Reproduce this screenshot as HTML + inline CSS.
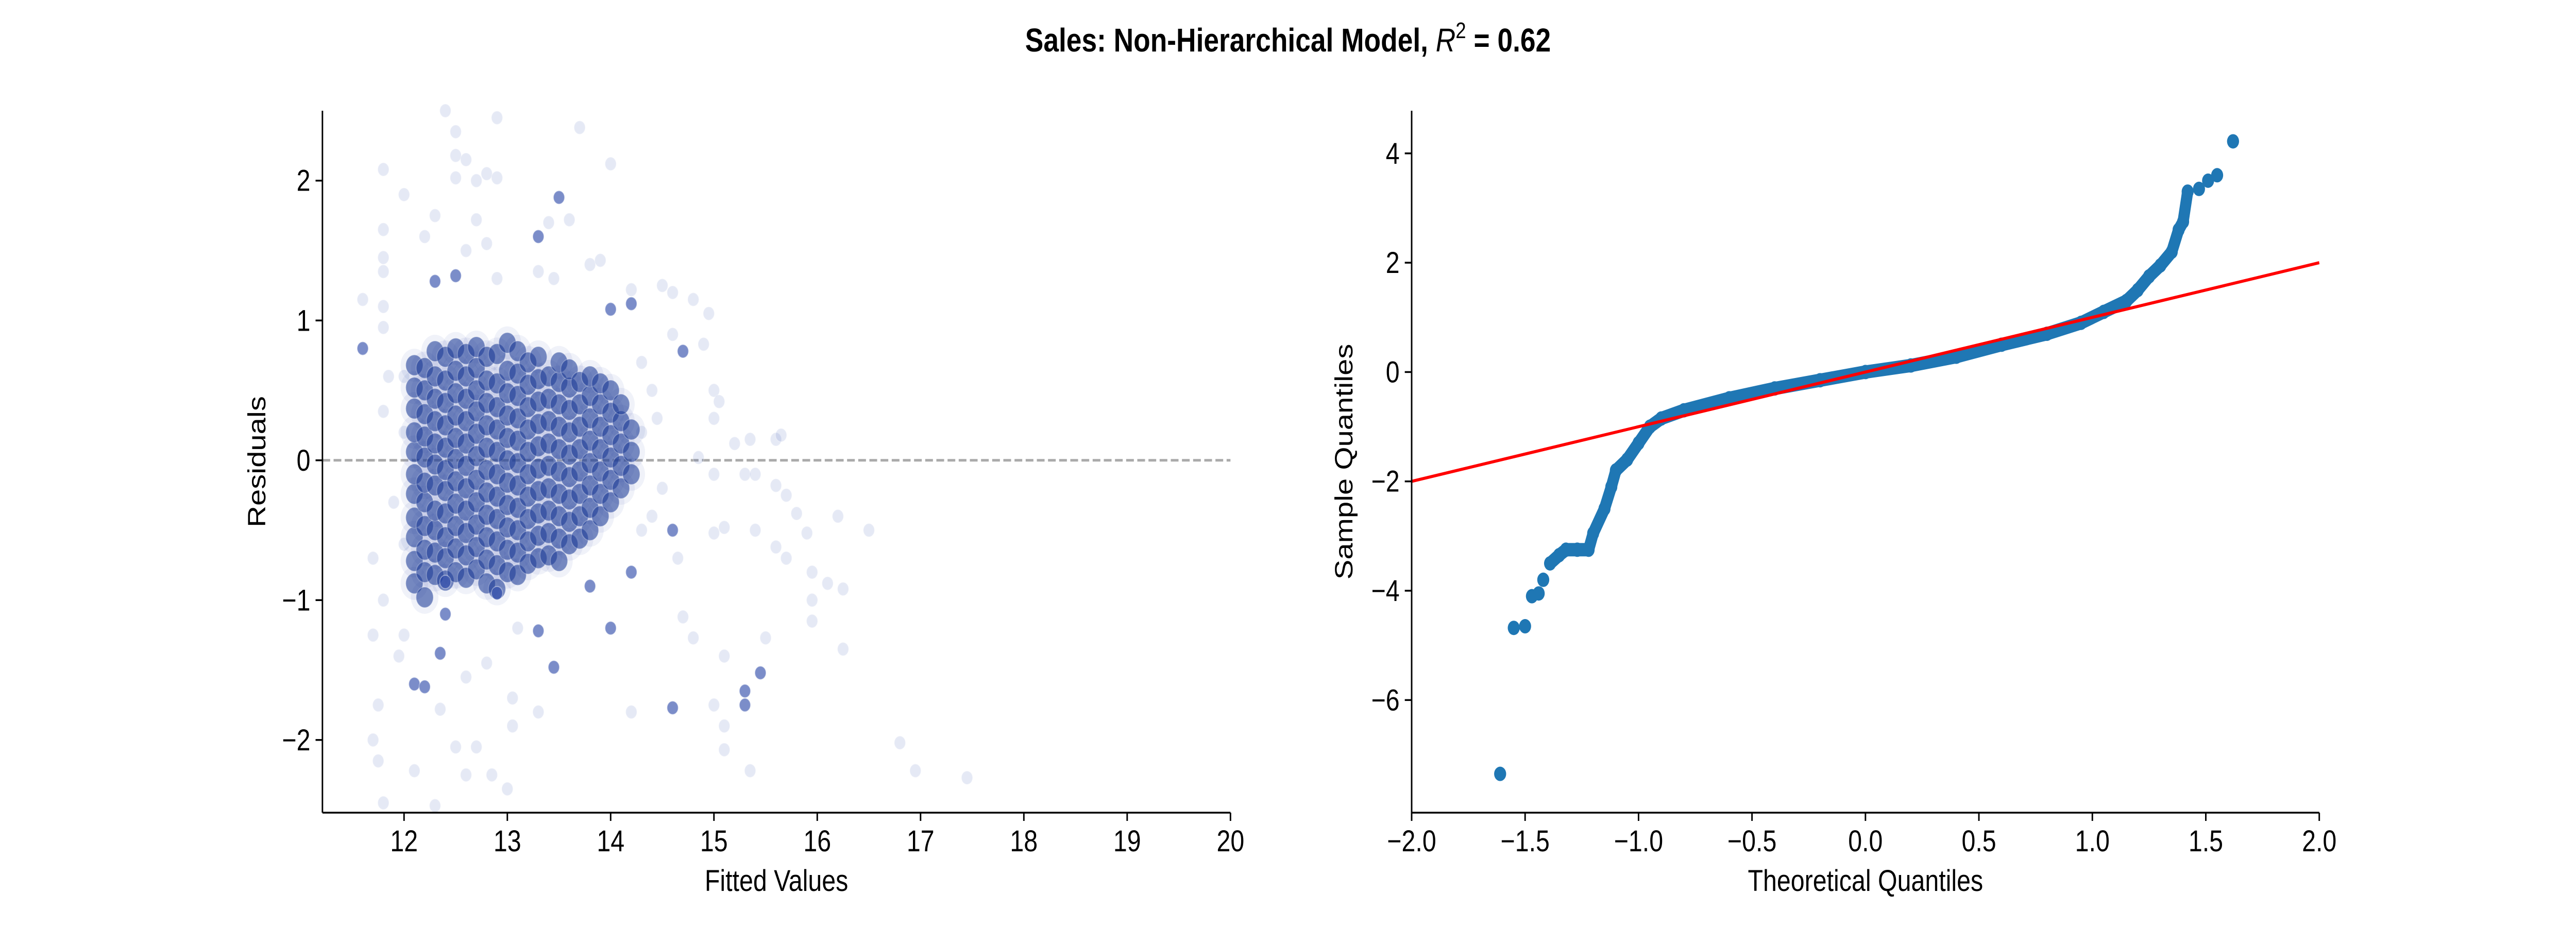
<!DOCTYPE html>
<html><head><meta charset="utf-8"><style>
html,body{margin:0;padding:0;background:#fff;overflow:hidden;}
svg{display:block;font-family:"Liberation Sans",sans-serif;width:100vw;height:100vh;}
</style></head><body>
<svg id="fig" viewBox="0 0 6000 1800" preserveAspectRatio="none" xmlns="http://www.w3.org/2000/svg">
<rect width="6000" height="1800" fill="#fff"/>
<text x="3000" y="100" text-anchor="middle" font-size="64" font-weight="bold">Sales: Non-Hierarchical Model, <tspan font-style="italic" font-weight="normal">R</tspan><tspan font-size="44" dy="-26" font-weight="normal">2</tspan><tspan dy="26"> = 0.62</tspan></text>
<g id="left"></g>
<g id="right"></g>
</svg>
<script>
// ---- Residual plot data ----
const coreX = [12.1,12.2,12.3,12.4,12.5,12.6,12.7,12.8,12.9,13.0,13.1,13.2,13.3,13.4,13.5,13.6,13.7,13.8,13.9,14.0,14.1,14.2];
const coreY = [
 [-0.88,-0.72,-0.55,-0.41,-0.24,-0.1,0.06,0.2,0.37,0.52,0.68],
 [-0.98,-0.8,-0.64,-0.47,-0.3,-0.16,0.02,0.17,0.33,0.5,0.66],
 [-0.82,-0.66,-0.5,-0.36,-0.18,-0.03,0.12,0.28,0.44,0.6,0.78],
 [-0.86,-0.7,-0.55,-0.38,-0.22,-0.07,0.09,0.25,0.41,0.57,0.74],
 [-0.8,-0.63,-0.47,-0.31,-0.15,0.01,0.16,0.32,0.48,0.64,0.8],
 [-0.84,-0.68,-0.52,-0.36,-0.2,-0.04,0.12,0.28,0.44,0.6,0.76],
 [-0.78,-0.62,-0.46,-0.3,-0.14,0.03,0.19,0.35,0.5,0.66,0.81],
 [-0.88,-0.71,-0.55,-0.39,-0.23,-0.07,0.09,0.25,0.41,0.57,0.74],
 [-0.92,-0.75,-0.58,-0.42,-0.26,-0.1,0.06,0.22,0.38,0.55,0.76],
 [-0.8,-0.64,-0.48,-0.32,-0.16,0.0,0.16,0.32,0.48,0.64,0.84],
 [-0.82,-0.66,-0.5,-0.34,-0.18,-0.02,0.14,0.3,0.46,0.62,0.78],
 [-0.74,-0.58,-0.42,-0.26,-0.1,0.06,0.22,0.38,0.54,0.7],
 [-0.7,-0.54,-0.38,-0.22,-0.06,0.1,0.26,0.42,0.58,0.74],
 [-0.68,-0.52,-0.36,-0.2,-0.04,0.12,0.28,0.44,0.6],
 [-0.72,-0.56,-0.4,-0.24,-0.08,0.08,0.24,0.4,0.56,0.7],
 [-0.6,-0.44,-0.28,-0.12,0.04,0.2,0.36,0.52,0.65],
 [-0.56,-0.4,-0.24,-0.08,0.08,0.24,0.4,0.56],
 [-0.5,-0.34,-0.18,-0.02,0.14,0.3,0.46,0.6],
 [-0.4,-0.24,-0.08,0.08,0.24,0.4,0.55],
 [-0.3,-0.14,0.02,0.18,0.34,0.5],
 [-0.2,-0.04,0.12,0.28,0.4],
 [-0.1,0.06,0.22]
];
const outX = [12.4,12.9,12.5,13.7,12.5,12.6,14.0,11.8,12.8,12.5,12.9,12.7,12.0,12.3,13.4,13.6,11.8,12.7,12.8,12.2,11.8,12.6,13.8,13.9,11.8,14.2,14.5,14.6,14.8,14.95,11.6,11.8,14.6,14.9,15.0,15.05,15.0,15.2,15.35,15.6,15.65,14.85,15.0,15.3,15.4,15.6,15.7,15.8,16.2,16.5,15.9,15.4,15.0,15.1,15.6,15.7,15.95,16.1,16.25,15.95,15.95,14.65,14.7,14.8,15.1,15.5,16.25,15.0,15.1,15.1,15.35,16.8,16.95,17.45,14.2,12.35,11.7,11.75,11.7,11.75,11.8,12.1,12.5,12.6,12.7,12.85,13.0,13.05,13.05,13.3,12.3,12.6,12.8,13.1,11.7,11.8,12.0,11.95,11.8,11.85,11.8,12.0,13.3,13.45,12.9,14.4,14.3,14.5,14.4,14.3,12.0,11.9,12.0,14.3,14.45];
const outY = [2.5,2.45,2.35,2.38,2.18,2.15,2.12,2.08,2.05,2.02,2.02,2.0,1.9,1.75,1.7,1.72,1.65,1.72,1.55,1.6,1.45,1.5,1.4,1.43,1.35,1.22,1.25,1.2,1.15,1.05,1.15,1.1,0.9,0.83,0.5,0.42,0.3,0.12,0.15,0.15,0.18,0.02,-0.1,-0.1,-0.1,-0.18,-0.25,-0.38,-0.4,-0.5,-0.52,-0.5,-0.52,-0.48,-0.62,-0.7,-0.8,-0.88,-0.92,-1.0,-1.15,-0.7,-1.12,-1.27,-1.4,-1.27,-1.35,-1.75,-1.9,-2.07,-2.22,-2.02,-2.22,-2.27,-1.8,-1.78,-1.25,-1.75,-2.0,-2.15,-2.45,-2.22,-2.05,-2.25,-2.05,-2.25,-2.35,-1.9,-1.7,-1.8,-2.47,-1.55,-1.45,-1.2,-0.7,-1.0,-1.25,-1.4,0.35,0.6,0.95,0.6,1.35,1.3,1.3,0.5,0.2,-0.2,-0.4,0.7,0.2,-0.3,-0.6,-0.5,0.3];
const darkX = [13.5,13.3,12.5,12.3,14.2,14.0,14.7,11.6,14.6,14.2,15.45,15.3,15.3,14.6,14.0,13.45,13.3,12.35,12.1,12.2,12.4,12.9,13.8,12.4];
const darkY = [1.88,1.6,1.32,1.28,1.12,1.08,0.78,0.8,-0.5,-0.8,-1.52,-1.65,-1.75,-1.77,-1.2,-1.48,-1.22,-1.38,-1.6,-1.62,-1.1,-0.95,-0.9,-0.87];
const xTicksL = [12,13,14,15,16,17,18,19,20];
const yTicksL = [-2,-1,0,1,2];

// ---- QQ plot data ----
const qqTheo = [-1.61,-1.55,-1.5,-1.47,-1.44,-1.42,-1.39,-1.35,-1.32,-1.27,-1.22,-1.2,-1.15,-1.12,-1.1,-1.05,-1.0,-0.95,-0.9,-0.8,-0.6,-0.4,-0.2,0,0.2,0.4,0.6,0.8,0.95,1.05,1.15,1.2,1.25,1.3,1.35,1.38,1.4,1.42,1.47,1.51,1.55,1.62];
const qqSample = [-7.35,-4.68,-4.65,-4.1,-4.05,-3.8,-3.5,-3.35,-3.25,-3.25,-3.25,-2.95,-2.5,-2.1,-1.8,-1.6,-1.3,-1.0,-0.85,-0.7,-0.48,-0.3,-0.15,0,0.12,0.28,0.5,0.7,0.9,1.1,1.3,1.5,1.75,1.95,2.2,2.6,2.75,3.3,3.35,3.5,3.6,4.22];
const qqLineX = [-2,2];
const qqLineY = [-2,2];
const xTicksR = [-2.0,-1.5,-1.0,-0.5,0.0,0.5,1.0,1.5,2.0];
const yTicksR = [-6,-4,-2,0,2,4];

const NS = 'http://www.w3.org/2000/svg';
function mk(parent, tag, attrs, txt){
  const e = document.createElementNS(NS, tag);
  for (const k in attrs) e.setAttribute(k, attrs[k]);
  if (txt !== undefined) e.textContent = txt;
  parent.appendChild(e); return e;
}
function fmtMinus(v, d){ const s = d ? v.toFixed(d) : String(v); return s.replace('-', '\u2212'); }

function axes(g, L, R, T, B, xs, ys, xt, yt, dec, xlabel, ylabel, ylx){
  for (const v of xt){
    const x = xs(v);
    const t = mk(g,'line',{x1:x,x2:x,y1:B,y2:B+16,stroke:'#000','stroke-width':3.5});
    
    
    const l = mk(g,'text',{x:x,y:B+75,'text-anchor':'middle','font-size':58},fmtMinus(v,dec));
    
    
  }
  for (const v of yt){
    const y = ys(v);
    const t = mk(g,'line',{x1:L-16,x2:L,y1:y,y2:y,stroke:'#000','stroke-width':3.5});
    
    
    const l = mk(g,'text',{x:L-28,y:y+20,'text-anchor':'end','font-size':58},fmtMinus(v,0));
    
    
  }
  const xa = mk(g,'line',{x1:L,x2:R,y1:B,y2:B,stroke:'#000','stroke-width':3.5});
  
  
  const ya = mk(g,'line',{x1:L,x2:L,y1:T,y2:B,stroke:'#000','stroke-width':3.5});
  
  
  const xl = mk(g,'text',{x:(L+R)/2,y:1730,'text-anchor':'middle','font-size':58},xlabel);
  
  
  const yl = mk(g,'text',{x:ylx,y:(T+B)/2,'text-anchor':'middle','font-size':58,transform:`rotate(-90 ${ylx} ${(T+B)/2})`},ylabel);
  
  
}

// Left plot
(function(){
  const g = document.getElementById('left');
  const L=751,R=2866,T=215,B=1578;
  const x0=11.21,x1=20,y0=-2.52,y1=2.5;
  const xs=v=>L+(v-x0)/(x1-x0)*(R-L);
  const ys=v=>B-(v-y0)/(y1-y0)*(B-T);
  const z = mk(g,'line',{x1:L,x2:R,y1:ys(0),y2:ys(0),stroke:'#aaa','stroke-width':5,'stroke-dasharray':'18 8'});
  
  
  const dots = mk(g,'g',{});
  
  
  for (let i=0;i<outX.length;i++){
    const c = mk(dots,'circle',{cx:xs(outX[i]),cy:ys(outY[i]),r:13,fill:'rgba(40,70,170,0.12)',stroke:'rgba(255,255,255,0.3)','stroke-width':2});
    
    
  }
  for (let j=0;j<coreX.length;j++){
    for (const yv of coreY[j]){
      const h = mk(dots,'circle',{cx:xs(coreX[j]),cy:ys(yv),r:32,fill:'rgba(40,70,170,0.07)'});
      
      
    }
  }
  for (let j=0;j<coreX.length;j++){
    for (const yv of coreY[j]){
      const c = mk(dots,'circle',{cx:xs(coreX[j]),cy:ys(yv),r:20,fill:'rgba(28,58,150,0.58)',stroke:'rgba(255,255,255,0.25)','stroke-width':2});
      
      
    }
  }
  for (let i=0;i<darkX.length;i++){
    const c = mk(dots,'circle',{cx:xs(darkX[i]),cy:ys(darkY[i]),r:13,fill:'rgba(35,65,165,0.6)',stroke:'rgba(255,255,255,0.4)','stroke-width':2});
    
    
  }
  axes(g,L,R,T,B,xs,ys,xTicksL,yTicksL,0,'Fitted Values','Residuals',618);
})();

// Right plot
(function(){
  const g = document.getElementById('right');
  const L=3288,R=5402,T=215,B=1578;
  const x0=-2,x1=2,y0=-8.06,y1=4.78;
  const xs=v=>L+(v-x0)/(x1-x0)*(R-L);
  const ys=v=>B-(v-y0)/(y1-y0)*(B-T);
  let d='';
  for (let i=6;i<=37;i++) d += (i===6?'M':'L')+xs(qqTheo[i]).toFixed(1)+' '+ys(qqSample[i]).toFixed(1);
  const p = mk(g,'path',{d:d,fill:'none',stroke:'#1f77b4','stroke-width':26,'stroke-linecap':'round','stroke-linejoin':'round'});
  
  
  for (let i=0;i<qqTheo.length;i++){
    const c = mk(g,'circle',{cx:xs(qqTheo[i]),cy:ys(qqSample[i]),r:14,fill:'#1f77b4'});
    
    
  }
  const rl = mk(g,'line',{x1:xs(qqLineX[0]),y1:ys(qqLineY[0]),x2:xs(qqLineX[1]),y2:ys(qqLineY[1]),stroke:'#ff0000','stroke-width':6});
  
  
  axes(g,L,R,T,B,xs,ys,xTicksR,yTicksR,1,'Theoretical Quantiles','Sample Quantiles',3150);
})();
</script>
</body></html>
